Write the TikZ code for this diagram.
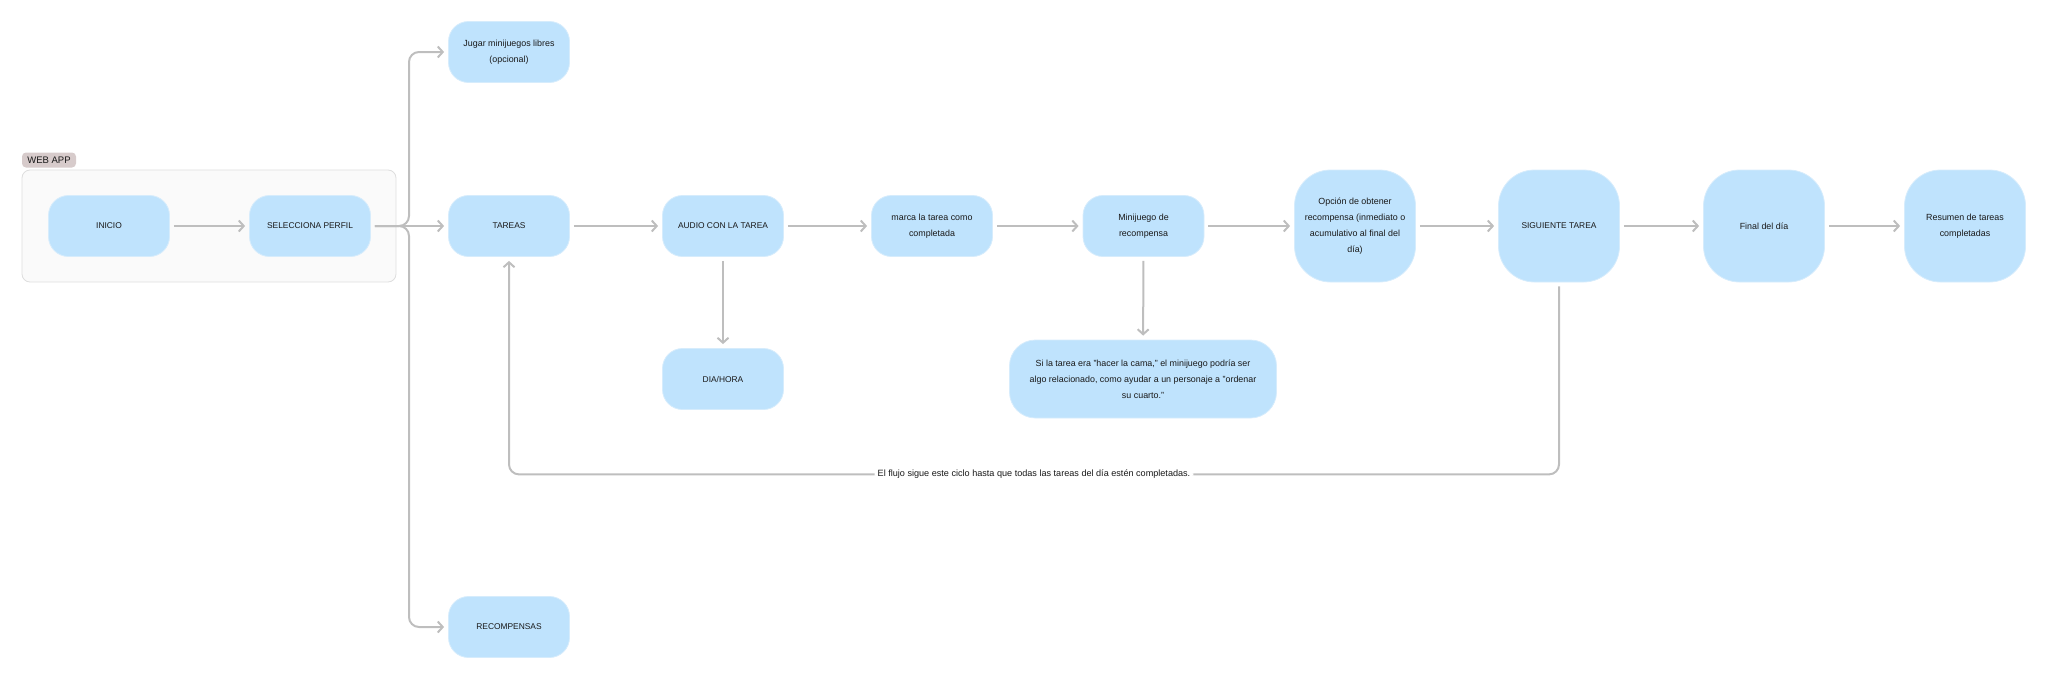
\documentclass[tikz,border=0pt]{standalone}
\usepackage{fontspec}
\setmainfont{Liberation Sans}
\usetikzlibrary{arrows.meta}
\definecolor{boxfill}{RGB}{191,227,253}
\definecolor{boxline}{RGB}{214,236,252}
\definecolor{linegray}{RGB}{190,190,190}
\definecolor{contfill}{RGB}{250,250,250}
\definecolor{contline}{RGB}{222,222,222}
\definecolor{tagfill}{RGB}{215,203,203}
\definecolor{txt}{RGB}{25,25,25}
\tikzset{
  box/.style={draw=boxline, line width=0.8pt, fill=boxfill, rounded corners=20pt, align=center,
    inner sep=0pt, minimum width=121pt, minimum height=61pt, text=txt,
    font=\fontsize{8.4}{16}\selectfont},
  lowbox/.style={font=\fontsize{8.9}{16}\selectfont},
  tallbox/.style={box, minimum height=112pt, rounded corners=36pt},
  arr/.style={draw=linegray, line width=2pt, rounded corners=10pt,
    -{Straight Barb[length=5pt,width=11pt,line width=2pt]}, shorten >=4pt, shorten <=4pt},
  lbl/.style={fill=white, inner sep=3pt, text=txt, font=\fontsize{9.1}{10}\selectfont},
}
\begin{document}
\begin{tikzpicture}[x=1pt,y=-1pt]
\useasboundingbox (0,0) rectangle (2048,680);
% container
\draw[contline, fill=contfill, rounded corners=8pt, line width=0.8pt] (22,170) rectangle (396,282);
\node[fill=tagfill, rounded corners=4pt, inner sep=0pt, minimum width=54pt, minimum height=15pt,
  text=txt, font=\fontsize{9.5}{10}\selectfont] (tag) at (49,160) {WEB APP};
% nodes
\node[box] (inicio) at (109,226) {INICIO};
\node[box] (perfil) at (310,226) {SELECCIONA PERFIL};
\node[box] (tareas) at (509,226) {TAREAS};
\node[box, lowbox] (jugar) at (509,52) {Jugar minijuegos libres\\(opcional)};
\node[box] (recomp) at (509,627) {RECOMPENSAS};
\node[box] (audio) at (723,226) {AUDIO CON LA TAREA};
\node[box] (dia) at (723,379) {DIA/HORA};
\node[box, lowbox] (marca) at (932,226) {marca la tarea como\\completada};
\node[box, lowbox] (mini) at (1143.5,226) {Minijuego de\\recompensa};
\node[box, lowbox, minimum width=267pt, minimum height=78pt, rounded corners=26pt] (sila) at (1143,379)
  {Si la tarea era "hacer la cama," el minijuego podría ser\\algo relacionado, como ayudar a un personaje a "ordenar\\su cuarto."};
\node[tallbox, lowbox] (opcion) at (1355,226) {Opción de obtener\\recompensa (inmediato o\\acumulativo al final del\\día)};
\node[tallbox] (sig) at (1559,226) {SIGUIENTE TAREA};
\node[tallbox, lowbox] (final) at (1764,226) {Final del día};
\node[tallbox, lowbox] (resumen) at (1965,226) {Resumen de tareas\\completadas};
% connectors
\draw[arr] (inicio) -- (perfil);
\coordinate (split) at (409,226);
\draw[arr] (perfil.east) -- (split) |- (jugar.west);
\draw[arr] (perfil.east) -- (split) |- (recomp.west);
\draw[arr] (perfil) -- (tareas);
\draw[arr] (tareas) -- (audio);
\draw[arr] (audio) -- (marca);
\draw[arr] (marca) -- (mini);
\draw[arr] (mini) -- (opcion);
\draw[arr] (opcion) -- (sig);
\draw[arr] (sig) -- (final);
\draw[arr] (final) -- (resumen);
\draw[arr] (audio) -- (dia);
\draw[arr] (mini) -- (sila);
\draw[arr] (sig.south) -- ++(0,192) -| node[pos=0.25, lbl] {El flujo sigue este ciclo hasta que todas las tareas del día estén completadas.} (tareas.south);
\end{tikzpicture}
\end{document}
